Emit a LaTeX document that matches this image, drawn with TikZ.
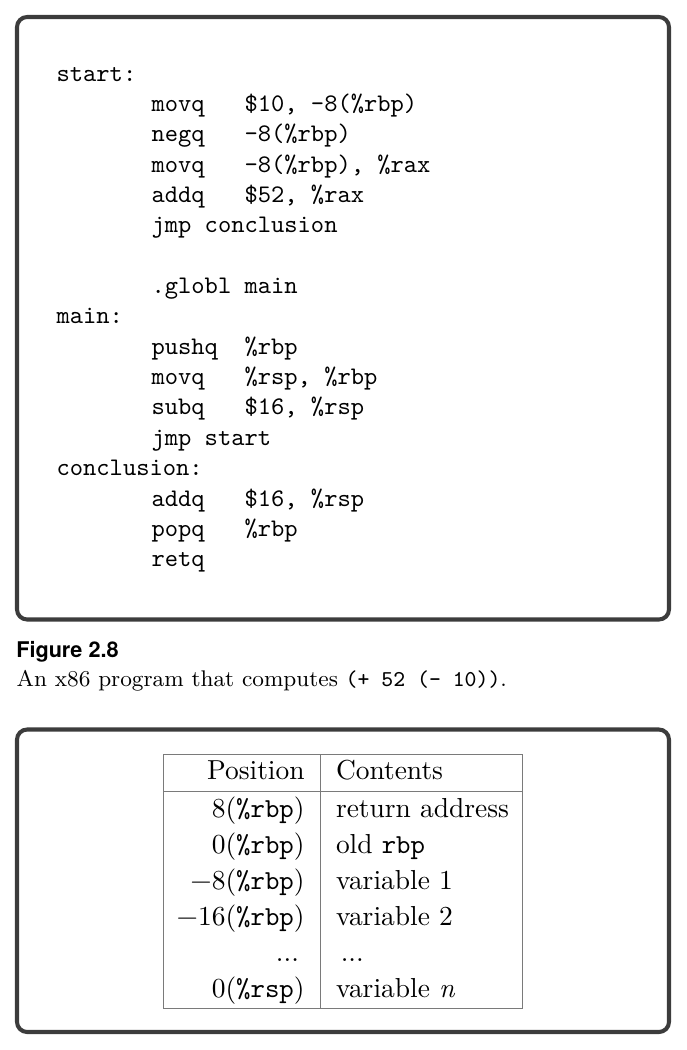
\documentclass[tikz,border=0pt]{standalone}
\usepackage{fontspec}
\newfontfamily\herosfam{TeX Gyre Heros}
\definecolor{boxgray}{HTML}{3C3C3C}
\definecolor{tabgray}{HTML}{7A7A7A}
\newcommand\codefont{\fontsize{10pt}{12pt}\selectfont\ttfamily}
\newcommand\tabfont{\fontsize{10.86pt}{13pt}\selectfont}
\newcommand\capfont{\fontsize{8.96pt}{11pt}\selectfont}
\newcommand\figfont{\herosfam\bfseries\fontsize{8.55pt}{10pt}\selectfont}
\tikzset{
  frame/.style={draw=boxgray, line width=1.6pt, rounded corners=4pt},
  codeline/.style={anchor=base west, inner sep=0pt, outer sep=0pt, font=\codefont},
  tabline/.style={draw=tabgray, line width=0.5pt},
  poscell/.style={anchor=base east, inner sep=0pt, font=\tabfont},
  concell/.style={anchor=base west, inner sep=0pt, font=\tabfont},
  captext/.style={anchor=base west, inner sep=0pt},
}
\begin{document}
\begin{tikzpicture}[x=0.3953pt, y=-0.3953pt]
\useasboundingbox (0,0) rectangle (686,1050);
% frames
\draw[frame] (17,17) rectangle (669,619.5);
\draw[frame] (17,729.5) rectangle (669,1032);
% code listing
\def\xa{56.6}
\def\xb{151.6}
\def\ya{81}
\def\dy{30.36}
\node[codeline] (c0)  at (\xa, \ya+0*\dy) {start:};
\node[codeline] (c1)  at (\xb, \ya+1*\dy) {movq\ \ \ \$10,\ -8(\%rbp)};
\node[codeline] (c2)  at (\xb, \ya+2*\dy) {negq\ \ \ -8(\%rbp)};
\node[codeline] (c3)  at (\xb, \ya+3*\dy) {movq\ \ \ -8(\%rbp),\ \%rax};
\node[codeline] (c4)  at (\xb, \ya+4*\dy) {addq\ \ \ \$52,\ \%rax};
\node[codeline] (c5)  at (\xb, \ya+5*\dy) {jmp\ conclusion};
\node[codeline] (c7)  at (\xb, \ya+7*\dy) {.globl\ main};
\node[codeline] (c8)  at (\xa, \ya+8*\dy) {main:};
\node[codeline] (c9)  at (\xb, \ya+9*\dy) {pushq\ \ \%rbp};
\node[codeline] (c10) at (\xb, \ya+10*\dy) {movq\ \ \ \%rsp,\ \%rbp};
\node[codeline] (c11) at (\xb, \ya+11*\dy) {subq\ \ \ \$16,\ \%rsp};
\node[codeline] (c12) at (\xb, \ya+12*\dy) {jmp\ start};
\node[codeline] (c13) at (\xa, \ya+13*\dy) {conclusion:};
\node[codeline] (c14) at (\xb, \ya+14*\dy) {addq\ \ \ \$16,\ \%rsp};
\node[codeline] (c15) at (\xb, \ya+15*\dy) {popq\ \ \ \%rbp};
\node[codeline] (c16) at (\xb, \ya+16*\dy) {retq};
% caption
\node[captext, font=\figfont] (figlabel) at (15.8,657.5) {Figure 2.8};
\node[captext, font=\capfont] (figcap) at (16.2,686) {An x86 program that computes \texttt{(+ 52 (- 10))}.};
% table lines
\coordinate (tl) at (163.3,754.7);
\coordinate (br) at (522.7,1008.3);
\draw[tabline] (tl) rectangle (br);
\draw[tabline] (163.3,791.7) -- (522.7,791.7);
\draw[tabline] (320.3,754.7) -- (320.3,1008.3);
% table cells
\def\xp{305.1}
\def\xc{335.5}
\node[poscell] (p0) at (\xp,779.3) {Position};
\node[concell] (q0) at (\xc,779.3) {Contents};
\node[poscell] (p1) at (\xp,817.3) {8(\texttt{\%rbp})};
\node[concell] (q1) at (\xc,817.3) {return address};
\node[poscell] (p2) at (\xp,853.3) {0(\texttt{\%rbp})};
\node[concell] (q2) at (\xc,853.3) {old \texttt{rbp}};
\node[poscell] (p3) at (\xp,889.3) {−8(\texttt{\%rbp})};
\node[concell] (q3) at (\xc,889.3) {variable 1};
\node[poscell] (p4) at (\xp,925.3) {−16(\texttt{\%rbp})};
\node[concell] (q4) at (\xc,925.3) {variable 2};
\node[poscell] (p5) at (299.4,961.3) {...};
\node[concell] (q5) at (340.3,961.3) {...};
\node[poscell] (p6) at (\xp,997.3) {0(\texttt{\%rsp})};
\node[concell] (q6) at (\xc,997.3) {variable \textit{n}};
\end{tikzpicture}
\end{document}
